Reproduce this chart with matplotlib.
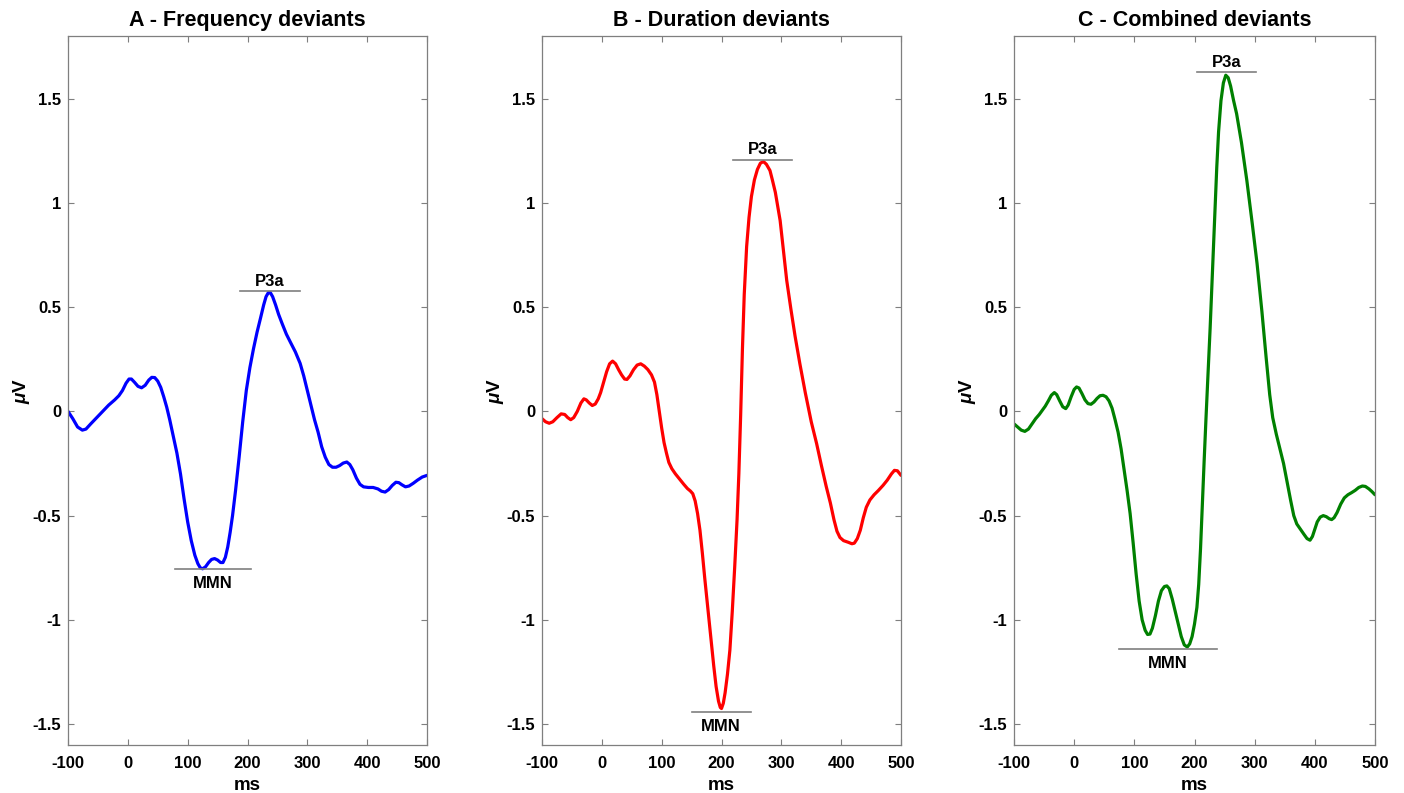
import matplotlib
matplotlib.use("Agg")
import matplotlib.pyplot as plt

plt.rcParams['font.family'] = ['Liberation Sans', 'DejaVu Sans']
plt.rcParams['font.weight'] = 'bold'
plt.rcParams['axes.unicode_minus'] = False
plt.rcParams['mathtext.fontset'] = 'custom'
plt.rcParams['mathtext.it'] = 'Liberation Sans:italic:bold'
plt.rcParams['mathtext.rm'] = 'Liberation Sans:bold'

# ---------------- data ----------------
titles = ["A - Frequency deviants", "B - Duration deviants", "C - Combined deviants"]
colors = ["#0000FF", "#FF0000", "#008000"]

freq_ms = [-100, -92, -84, -76, -70, -62, -52, -42, -32, -22, -15, -9, -3, 2, 6, 11, 17, 23, 29,
           35, 40, 45, 50, 55, 60, 65, 70, 76, 82, 88, 94, 100, 106, 112, 117, 121, 125, 130, 135,
           140, 145, 150, 155, 159, 163, 167, 171, 175, 180, 186, 192, 198, 204, 210, 216, 222,
           227, 231, 235, 238, 242, 247, 252, 258, 265, 272, 280, 288, 294, 300, 306, 312, 318,
           324, 330, 336, 342, 348, 354, 360, 366, 371, 376, 382, 388, 394, 402, 410, 418, 424,
           430, 436, 442, 448, 453, 458, 464, 470, 477, 484, 492, 500]
freq_uv = [0.0, -0.035, -0.075, -0.09, -0.085, -0.06, -0.03, 0.0, 0.03, 0.055, 0.075, 0.1, 0.135,
           0.155, 0.155, 0.14, 0.12, 0.113, 0.125, 0.15, 0.163, 0.162, 0.145, 0.115, 0.07, 0.02,
           -0.04, -0.12, -0.2, -0.3, -0.42, -0.53, -0.62, -0.69, -0.73, -0.75, -0.755, -0.745,
           -0.725, -0.71, -0.706, -0.713, -0.725, -0.725, -0.7, -0.65, -0.58, -0.5, -0.38, -0.22,
           -0.05, 0.1, 0.21, 0.3, 0.38, 0.45, 0.51, 0.55, 0.57, 0.57, 0.55, 0.51, 0.465, 0.42,
           0.37, 0.33, 0.285, 0.23, 0.17, 0.1, 0.03, -0.04, -0.1, -0.17, -0.22, -0.255, -0.268,
           -0.268, -0.26, -0.248, -0.243, -0.255, -0.28, -0.32, -0.35, -0.362, -0.365, -0.365,
           -0.372, -0.383, -0.387, -0.375, -0.355, -0.34, -0.342, -0.352, -0.362, -0.358,
           -0.345, -0.33, -0.315, -0.307]

dur_ms = [-100, -94, -88, -82, -75, -68, -62, -57, -52, -47, -41, -35, -30, -26, -21, -16, -11,
          -6, -2, 3, 8, 13, 18, 23, 28, 33, 38, 42, 47, 53, 59, 65, 71, 77, 83, 88, 92, 96, 100,
          104, 108, 112, 117, 123, 130, 137, 143, 148, 152, 156, 160, 164, 168, 172, 177, 182,
          187, 191, 195, 198, 200, 203, 206, 210, 214, 218, 222, 226, 229, 232, 235, 238, 242,
          246, 250, 255, 260, 265, 270, 275, 281, 285, 290, 298, 309, 316, 323, 331, 340, 350,
          359, 367, 375, 382, 388, 393, 398, 404, 412, 418, 422, 427, 432, 437, 442, 448, 455,
          462, 470, 477, 484, 489, 494, 500]
dur_uv = [-0.035, -0.05, -0.057, -0.05, -0.03, -0.012, -0.015, -0.03, -0.04, -0.03, 0.0, 0.04,
          0.06, 0.055, 0.04, 0.028, 0.035, 0.06, 0.09, 0.14, 0.19, 0.228, 0.241, 0.228, 0.2,
          0.175, 0.155, 0.153, 0.17, 0.2, 0.222, 0.228, 0.217, 0.2, 0.175, 0.14, 0.08, 0.0,
          -0.08, -0.15, -0.2, -0.245, -0.275, -0.3, -0.325, -0.35, -0.37, -0.382, -0.395, -0.43,
          -0.49, -0.57, -0.68, -0.8, -0.94, -1.08, -1.22, -1.32, -1.39, -1.42, -1.425, -1.4,
          -1.35, -1.26, -1.145, -0.96, -0.75, -0.52, -0.3, -0.02, 0.3, 0.56, 0.79, 0.93, 1.03,
          1.11, 1.16, 1.19, 1.198, 1.185, 1.155, 1.11, 1.05, 0.915, 0.628, 0.49, 0.36, 0.228,
          0.09, -0.05, -0.155, -0.26, -0.36, -0.44, -0.52, -0.575, -0.605, -0.62, -0.628,
          -0.635, -0.632, -0.61, -0.57, -0.51, -0.46, -0.425, -0.4, -0.38, -0.355, -0.33, -0.3,
          -0.283, -0.285, -0.307]

comb_ms = [-100, -94, -88, -82, -76, -70, -64, -58, -53, -48, -43, -38, -33, -29, -24, -19, -14,
           -10, -5, 0, 4, 8, 13, 18, 23, 28, 33, 38, 43, 48, 53, 58, 63, 68, 73, 78, 83, 88, 93,
           98, 103, 108, 113, 118, 122, 126, 130, 135, 140, 145, 150, 154, 158, 163, 168, 173,
           178, 183, 188, 192, 196, 200, 204, 207, 210, 213, 216, 219, 222, 226, 230, 234, 237,
           240, 244, 248, 252, 256, 260, 265, 270, 278, 287, 296, 304, 312, 319, 325, 330, 336,
           342, 348, 354, 360, 365, 370, 376, 382, 387, 392, 396, 400, 404, 409, 414, 419, 424,
           428, 432, 437, 443, 449, 455, 461, 467, 473, 479, 484, 490, 495, 500]
comb_uv = [-0.06, -0.075, -0.09, -0.096, -0.085, -0.06, -0.035, -0.015, 0.005, 0.025, 0.05,
           0.077, 0.09, 0.08, 0.05, 0.022, 0.013, 0.03, 0.07, 0.105, 0.117, 0.112, 0.085, 0.055,
           0.037, 0.034, 0.045, 0.062, 0.075, 0.077, 0.07, 0.05, 0.015, -0.04, -0.1, -0.18,
           -0.28, -0.38, -0.49, -0.63, -0.78, -0.91, -1.0, -1.05, -1.07, -1.068, -1.04, -0.98,
           -0.91, -0.86, -0.84, -0.837, -0.85, -0.9, -0.96, -1.02, -1.08, -1.12, -1.13, -1.115,
           -1.08, -1.02, -0.94, -0.83, -0.66, -0.45, -0.24, -0.04, 0.15, 0.4, 0.68, 0.96, 1.17,
           1.34, 1.49, 1.575, 1.612, 1.6, 1.56, 1.49, 1.427, 1.29, 1.107, 0.9, 0.708, 0.48, 0.26,
           0.08, -0.03, -0.11, -0.18, -0.25, -0.34, -0.43, -0.5, -0.54, -0.565, -0.59, -0.61,
           -0.618, -0.6, -0.565, -0.53, -0.507, -0.5, -0.505, -0.515, -0.519, -0.51, -0.485,
           -0.445, -0.415, -0.4, -0.39, -0.379, -0.365, -0.358, -0.36, -0.372, -0.385, -0.4]

series_ms = [freq_ms, dur_ms, comb_ms]
series_uv = [freq_uv, dur_uv, comb_uv]

# component marker lines: (x_start, x_end, level)
p3a_lines = [(188, 287, 0.577), (219, 318, 1.207), (204, 302, 1.626)]
mmn_lines = [(79, 206, -0.758), (150, 249, -1.444), (75, 237, -1.142)]

xticks = [-100, 0, 100, 200, 300, 400, 500]
yticks = [-1.5, -1, -0.5, 0, 0.5, 1, 1.5]
ytick_labels = ["-1.5", "-1", "-0.5", "0", "0.5", "1", "1.5"]

# ---------------- figure ----------------
fig = plt.figure(figsize=(14.04, 7.93), dpi=100)
W, H = 1404, 793
lefts = [68, 542, 1014]
rights = [427, 901, 1375]
top_px, bot_px = 36, 745

grey = "#7f7f7f"
for i in range(3):
    ax = fig.add_axes([lefts[i] / W, 1 - bot_px / H, (rights[i] - lefts[i]) / W,
                       (bot_px - top_px) / H])
    ax.plot(series_ms[i], series_uv[i], color=colors[i], lw=2.3, solid_capstyle='round',
            solid_joinstyle='round')
    x0, x1, lv = p3a_lines[i]
    ax.plot([x0, x1], [lv, lv], color=grey, lw=1.2)
    ax.text((x0 + x1) / 2, lv + 0.012, "P3a", ha='center', va='bottom', fontsize=12,
            fontweight='bold')
    x0, x1, lv = mmn_lines[i]
    ax.plot([x0, x1], [lv, lv], color=grey, lw=1.2)
    ax.text((x0 + x1) / 2, lv - 0.03, "MMN", ha='center', va='top', fontsize=12,
            fontweight='bold')

    ax.set_xlim(-100, 500)
    ax.set_ylim(-1.6, 1.8)
    ax.set_xticks(xticks)
    ax.set_xticklabels([str(t) for t in xticks])
    ax.set_yticks(yticks)
    ax.set_yticklabels(ytick_labels)
    ax.tick_params(direction='in', length=4, width=0.8, color=grey, top=True, right=True,
                   labelsize=12)
    ax.tick_params(axis='x', pad=8)
    ax.tick_params(axis='y', pad=5)
    for lab in ax.get_xticklabels() + ax.get_yticklabels():
        lab.set_fontweight('bold')
    for sp in ax.spines.values():
        sp.set_color(grey)
        sp.set_linewidth(0.9)
    ax.set_title(titles[i], fontsize=15.5, fontweight='bold', pad=7)
    ax.set_xlabel("ms", fontsize=13.5, fontweight='bold', labelpad=4)
    ax.set_ylabel(r"$\mu$V", fontsize=13.5, fontweight='bold', labelpad=0)

fig.savefig("out.png", dpi=100)
